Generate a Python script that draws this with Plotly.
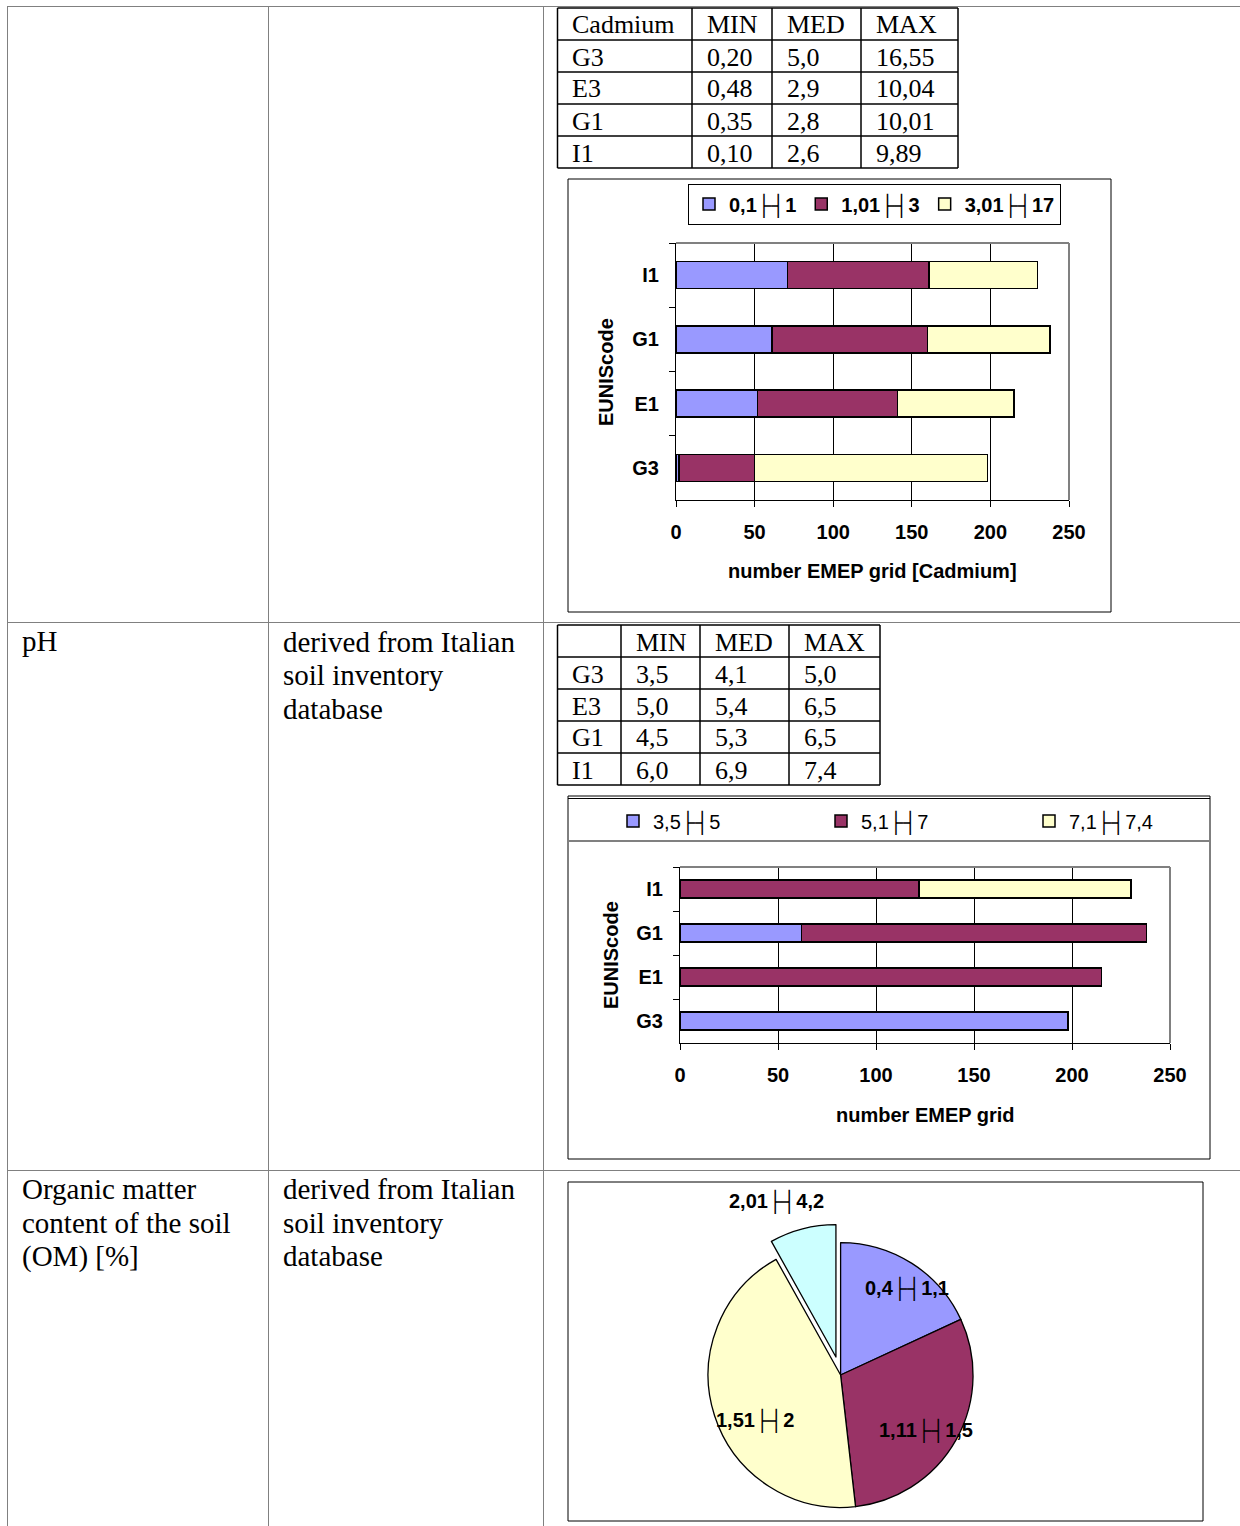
import plotly.graph_objects as go

# ---------------- data ----------------
categories = ["G3", "E1", "G1", "I1"]

cd_series = ["0,1├┤1", "1,01├┤3", "3,01├┤17"]
cd_low = [2, 52, 61, 71]
cd_mid = [48, 89, 99, 90]
cd_high = [148, 74, 78, 69]

ph_series = ["3,5├┤5", "5,1├┤7", "7,1├┤7,4"]
ph_low = [198, None, 62, None]
ph_mid = [None, 215, 176, 122]
ph_high = [None, None, None, 108]

om_labels = ["0,4├┤1,1", "1,11├┤1,5", "1,51├┤2", "2,01├┤4,2"]
om_values = [18.1, 30.1, 43.7, 8.1]

table_rows = ["G3", "E3", "G1", "I1"]
table_cols = ["MIN", "MED", "MAX"]
cd_min = ["0,20", "0,48", "0,35", "0,10"]
cd_med = ["5,0", "2,9", "2,8", "2,6"]
cd_max = ["16,55", "10,04", "10,01", "9,89"]
ph_min = ["3,5", "5,0", "4,5", "6,0"]
ph_med = ["4,1", "5,4", "5,3", "6,9"]
ph_max = ["5,0", "6,5", "6,5", "7,4"]

row_names = ["pH", ["Organic matter", "content of the soil", "(OM) [%]"]]
source_text = ["derived from Italian", "soil inventory", "database"]

# ---------------- style ----------------
W, H = 1240, 1526
BLUE, MAROON, YELLOW, CYAN = "#9999FF", "#993366", "#FFFFCC", "#CCFFFF"
SANS = "Liberation Sans, Arial, sans-serif"
SERIF = "Liberation Serif, Times New Roman, serif"
GRAY = "#808080"


def X(p):
    return p / W


def Y(p):
    return 1 - p / H


shapes = []
annotations = []


def line(x0, y0, x1, y1, color="black", width=1):
    shapes.append(dict(type="line", xref="paper", yref="paper",
                       x0=X(x0), y0=Y(y0), x1=X(x1), y1=Y(y1),
                       line=dict(color=color, width=width), layer="above"))


def rect(x0, y0, x1, y1, color="black", width=1):
    shapes.append(dict(type="rect", xref="paper", yref="paper",
                       x0=X(x0), y0=Y(y0), x1=X(x1), y1=Y(y1),
                       line=dict(color=color, width=width), layer="below"))


def text(t, x, y, size, family, bold=False, xanchor="left", angle=0):
    annotations.append(dict(text=t, x=X(x), y=Y(y), xref="paper", yref="paper",
                            xanchor=xanchor, yanchor="middle", showarrow=False,
                            textangle=angle,
                            font=dict(size=size, family=family, color="black",
                                      weight=700 if bold else 400)))


# outer document table
line(7, 6.5, W, 6.5, GRAY)
line(7, 622.5, W, 622.5, GRAY)
line(7, 1170.5, W, 1170.5, GRAY)
line(7.5, 6, 7.5, H, GRAY)
line(268.5, 6, 268.5, H, GRAY)
line(543.5, 6, 543.5, H, GRAY)

text(row_names[0], 20, 641, 29, SERIF)
for i, t in enumerate(row_names[1]):
    text(t, 20, 1189 + i * 33.5, 29, SERIF)
for i, t in enumerate(source_text):
    text(t, 281, 642 + i * 33.5, 29, SERIF)
    text(t, 281, 1189 + i * 33.5, 29, SERIF)


# small data tables
def small_table(cols_x, rows_y, header, first_col, values):
    for cx in cols_x:
        line(cx, rows_y[0], cx, rows_y[-1], "black", 1.5)
    for ry in rows_y:
        line(cols_x[0], ry, cols_x[-1], ry, "black", 1.5)
    for j, h in enumerate(header):
        text(h, cols_x[j] + 12.5, (rows_y[0] + rows_y[1]) / 2 + 1, 26, SERIF)
    for i, rn in enumerate(first_col):
        yc = (rows_y[i + 1] + rows_y[i + 2]) / 2 + 1
        text(rn, cols_x[0] + 12.5, yc, 26, SERIF)
        for j, col in enumerate(values):
            text(col[i], cols_x[j + 1] + 12.5, yc, 26, SERIF)


small_table([557.5, 692, 772, 861, 958], [8, 40, 72, 104, 136, 168],
            ["Cadmium"] + table_cols, table_rows, [cd_min, cd_med, cd_max])
small_table([557.5, 621, 700, 789, 880], [625, 657, 689, 721, 753, 785],
            [""] + table_cols, table_rows, [ph_min, ph_med, ph_max])

# chart frames
rect(568, 179, 1111, 612)
rect(568, 796, 1210, 1159)
line(568, 798.5, 1210, 798.5, "black", 1)
line(568, 841, 1210, 841, GRAY, 2)
rect(568, 1182, 1203, 1521)

# ---------------- traces ----------------
fig = go.Figure()
colors = [BLUE, MAROON, YELLOW]
for name, vals, c in zip(cd_series, [cd_low, cd_mid, cd_high], colors):
    fig.add_trace(go.Bar(y=categories, x=vals, name=name, orientation="h",
                         marker=dict(color=c, line=dict(color="black", width=1.5)),
                         width=0.42, xaxis="x", yaxis="y", legend="legend"))
for name, vals, c in zip(ph_series, [ph_low, ph_mid, ph_high], colors):
    fig.add_trace(go.Bar(y=categories, x=vals, name=name, orientation="h",
                         marker=dict(color=c, line=dict(color="black", width=1.5)),
                         width=0.41, xaxis="x2", yaxis="y2", legend="legend2"))

pie_cx, pie_cy, half = 840.6, 1375, 151
fig.add_trace(go.Pie(labels=om_labels, values=om_values, sort=False,
                     direction="clockwise", rotation=0,
                     pull=[0, 0, 0, 0.14], textinfo="none", showlegend=False,
                     marker=dict(colors=[BLUE, MAROON, YELLOW, CYAN],
                                 line=dict(color="black", width=1.3)),
                     domain=dict(x=[X(pie_cx - half), X(pie_cx + half)],
                                 y=[Y(pie_cy + half), Y(pie_cy - half)])))

pie_label_pos = [(907, 1289), (926, 1431), (755, 1421), (776, 1202)]
for lab, (lx, ly) in zip(om_labels, pie_label_pos):
    text(lab, lx, ly, 20, SANS, bold=True, xanchor="center")

# axis titles
text("EUNIScode", 606, 372, 20, SANS, bold=True, xanchor="center", angle=-90)
text("number EMEP grid [Cadmium]", 873, 571, 20, SANS, bold=True, xanchor="center")
text("EUNIScode", 611, 955, 20, SANS, bold=True, xanchor="center", angle=-90)
text("number EMEP grid", 925, 1115, 20, SANS, bold=True, xanchor="center")

tickfont = dict(size=20, family=SANS, color="black", weight=700)


def xax(domain, anchor):
    return dict(domain=domain, anchor=anchor, range=[0, 250], dtick=50,
                tickfont=tickfont, ticks="outside", ticklen=6, tickcolor="black",
                showline=True, linecolor="black", linewidth=1,
                showgrid=True, gridcolor="black", gridwidth=1, zeroline=False,
                ticklabelstandoff=8, fixedrange=True)


def yax(domain, anchor):
    return dict(domain=domain, anchor=anchor, type="category",
                categoryorder="array", categoryarray=categories,
                tickfont=tickfont, ticks="outside", ticklen=6, tickcolor="black",
                tickson="boundaries", showline=True, linecolor="black",
                linewidth=1, showgrid=False, ticklabelstandoff=12, fixedrange=True)


# gray plot-area borders (top/right)
for xr, yr in [("x domain", "y domain"), ("x2 domain", "y2 domain")]:
    shapes.append(dict(type="line", xref=xr, yref=yr, x0=0, x1=1, y0=1, y1=1,
                       line=dict(color=GRAY, width=2), layer="above"))
    shapes.append(dict(type="line", xref=xr, yref=yr, x0=1, x1=1, y0=0, y1=1,
                       line=dict(color=GRAY, width=2), layer="above"))

fig.update_layout(
    width=W, height=H, margin=dict(l=0, r=0, t=0, b=0, pad=0, autoexpand=False),
    paper_bgcolor="white", plot_bgcolor="white",
    barmode="stack", bargap=0.58,
    xaxis=xax([X(676), X(1069)], "y"),
    yaxis=yax([Y(500), Y(243)], "x"),
    xaxis2=xax([X(680), X(1170)], "y2"),
    yaxis2=yax([Y(1043), Y(867)], "x2"),
    legend=dict(orientation="h", x=X(688), y=Y(204), xanchor="left",
                yanchor="middle", bordercolor="black", borderwidth=1,
                bgcolor="white", traceorder="normal", itemwidth=30,
                font=dict(size=20, family=SANS, color="black", weight=700)),
    legend2=dict(orientation="h", x=X(613), y=Y(821), xanchor="left",
                 yanchor="middle", borderwidth=0, bgcolor="rgba(0,0,0,0)",
                 traceorder="normal", itemwidth=30, entrywidth=163,
                 entrywidthmode="pixels",
                 font=dict(size=20, family=SANS, color="black")),
    shapes=shapes, annotations=annotations,
    hovermode=False,
)

fig.write_html("out.html", config={"displayModeBar": False},
               post_script="document.body.style.margin='0';")
